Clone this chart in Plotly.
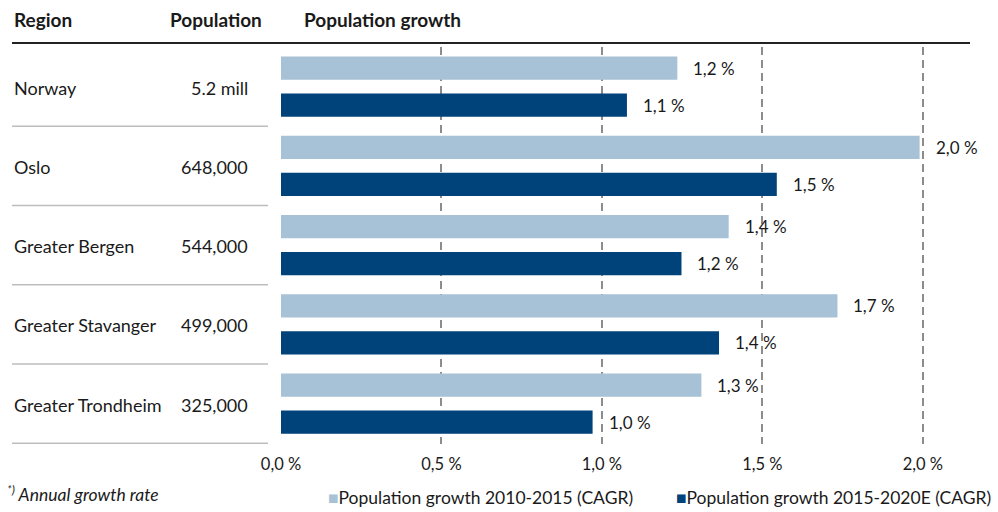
import plotly.graph_objects as go

regions = ["Norway", "Oslo", "Greater Bergen", "Greater Stavanger", "Greater Trondheim"]
population = ["5.2 mill", "648,000", "544,000", "499,000", "325,000"]
growth_2010_2015 = [1.235, 1.99, 1.395, 1.734, 1.31]
growth_2015_2020 = [1.078, 1.545, 1.248, 1.365, 0.971]
labels_2010_2015 = ["1,2 %", "2,0 %", "1,4 %", "1,7 %", "1,3 %"]
labels_2015_2020 = ["1,1 %", "1,5 %", "1,2 %", "1,4 %", "1,0 %"]
tick_vals = [0, 0.5, 1.0, 1.5, 2.0]
tick_text = ["0,0 %", "0,5 %", "1,0 %", "1,5 %", "2,0 %"]
series_names = ["Population growth 2010-2015 (CAGR)", "Population growth 2015-2020E (CAGR)"]

LIGHT = "#a7c1d6"
DARK = "#00427a"
TXT = "#1a1a1a"
FONT = "Lato"

W, H = 998, 512
ML, MR, MT, MB = 281, 11, 47, 68
PW = W - ML - MR
PH = H - MT - MB


def px(xp):
    return (xp - ML) / PW


def py(yp):
    return (H - MB - yp) / PH


fig = go.Figure()
fig.add_trace(go.Bar(y=regions, x=growth_2010_2015, orientation="h",
                     marker=dict(color=LIGHT, line=dict(width=0)), name=series_names[0]))
fig.add_trace(go.Bar(y=regions, x=growth_2015_2020, orientation="h",
                     marker=dict(color=DARK, line=dict(width=0)), name=series_names[1]))

ann = []
# value labels
for r, v, t in zip(regions, growth_2010_2015, labels_2010_2015):
    ann.append(dict(x=v, y=r, xref="x", yref="y", text=t, showarrow=False,
                    xanchor="left", yanchor="middle", xshift=14, yshift=18.5,
                    font=dict(size=17, color=TXT, family=FONT)))
for r, v, t in zip(regions, growth_2015_2020, labels_2015_2020):
    ann.append(dict(x=v, y=r, xref="x", yref="y", text=t, showarrow=False,
                    xanchor="left", yanchor="middle", xshift=14, yshift=-18.5,
                    font=dict(size=17, color=TXT, family=FONT)))
# table rows
for r, p in zip(regions, population):
    ann.append(dict(x=px(12), y=r, xref="paper", yref="y", text=r, showarrow=False,
                    xanchor="left", yanchor="middle", yshift=-1,
                    font=dict(size=18, color=TXT, family=FONT)))
    ann.append(dict(x=px(250), y=r, xref="paper", yref="y", text=p, showarrow=False,
                    xanchor="right", yanchor="middle", yshift=-1,
                    font=dict(size=18, color=TXT, family=FONT)))
# headers
for txt, xp in [("Region", 12), ("Population", 168), ("Population growth", 302)]:
    ann.append(dict(x=px(xp), y=py(19), xref="paper", yref="paper", text="<b>%s</b>" % txt,
                    showarrow=False, xanchor="left", yanchor="middle",
                    font=dict(size=19, color=TXT, family=FONT)))
# footnote
ann.append(dict(x=px(5), y=py(493), xref="paper", yref="paper",
                text="<i><sup>*)</sup> Annual growth rate</i>", showarrow=False,
                xanchor="left", yanchor="middle", font=dict(size=17.5, color=TXT, family=FONT)))
# legend
for name, col, xp in [(series_names[0], LIGHT, 326), (series_names[1], DARK, 674)]:
    ann.append(dict(x=px(xp), y=py(497), xref="paper", yref="paper",
                    text="<span style='color:%s'>■</span>%s" % (col, name), showarrow=False,
                    xanchor="left", yanchor="middle", font=dict(size=17.5, color=TXT, family=FONT)))

shapes = []
# header rule
shapes.append(dict(type="line", xref="paper", yref="paper", x0=px(12), x1=px(970),
                   y0=py(43), y1=py(43), line=dict(color="#222222", width=2)))
# row separators
for i in range(len(regions)):
    shapes.append(dict(type="line", xref="paper", yref="y", x0=px(12), x1=px(268),
                       y0=i + 0.5, y1=i + 0.5, line=dict(color="#bdbdbd", width=1.5)))

fig.update_layout(
    width=W, height=H,
    margin=dict(l=ML, r=MR, t=MT, b=MB, pad=0),
    paper_bgcolor="white", plot_bgcolor="white",
    barmode="group", bargap=0.068, bargroupgap=0.37,
    showlegend=False,
    font=dict(family=FONT, color=TXT),
    annotations=ann, shapes=shapes,
    xaxis=dict(range=[0, 2.2], tickvals=tick_vals, ticktext=tick_text,
               showgrid=True, gridcolor="#8c8c8c", gridwidth=1.5, griddash="8px,5px",
               zeroline=False, showline=False, ticks="", ticklabelstandoff=8,
               tickfont=dict(size=16.5, color=TXT, family=FONT), fixedrange=True),
    yaxis=dict(autorange="reversed", showticklabels=False, showgrid=False,
               zeroline=False, showline=False, ticks="", fixedrange=True),
)

fig.write_html("out.html")
